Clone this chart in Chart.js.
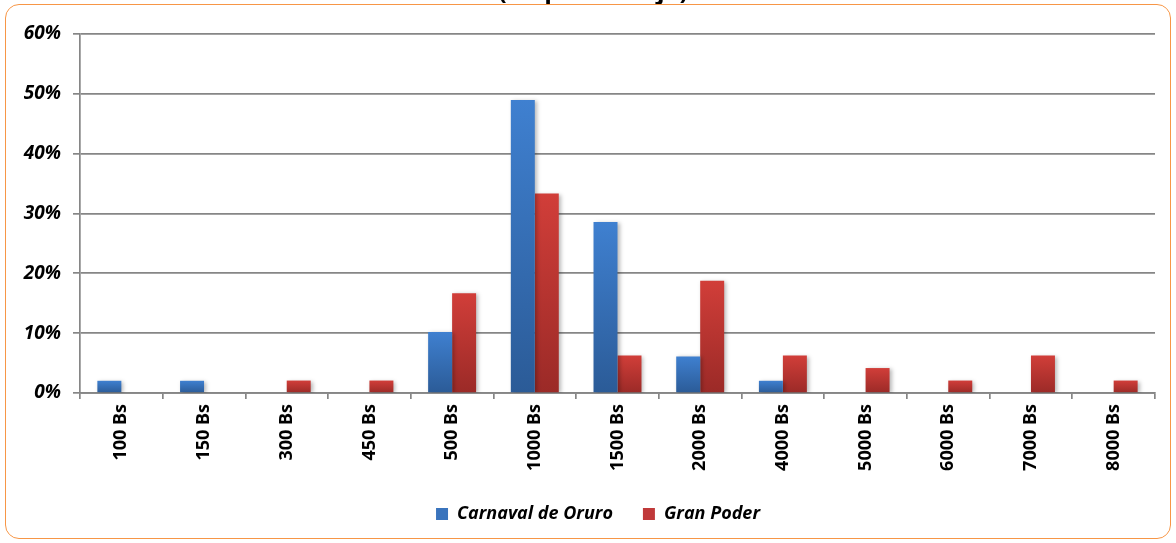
<!DOCTYPE html>
<html>
<head>
<meta charset="utf-8">
<script src="https://cdn.jsdelivr.net/npm/chart.js@4.4.0/dist/chart.umd.min.js"></script>
<style>
  html, body { margin: 0; padding: 0; background: #fff; }
  #wrap { position: relative; width: 1176px; height: 543px; overflow: hidden; }
  #marco {
    position: absolute; left: 5px; top: 4px; width: 1164px; height: 533px;
    border: 1.5px solid #f79646; border-radius: 14px; pointer-events: none;
  }
</style>
</head>
<body>
<div id="wrap">
  <canvas id="grafico" width="1176" height="543"></canvas>
  <div id="marco"></div>
</div>
<script>
// datos (porcentaje de encuestados por monto)
const montos = ['100 Bs', '150 Bs', '300 Bs', '450 Bs', '500 Bs', '1000 Bs', '1500 Bs',
  '2000 Bs', '4000 Bs', '5000 Bs', '6000 Bs', '7000 Bs', '8000 Bs'];
const carnavalOruro = [2.04, 2.04, 0, 0, 10.2, 48.98, 28.57, 6.12, 2.04, 0, 0, 0, 0];
const granPoder = [0, 0, 2.08, 2.08, 16.67, 33.33, 6.25, 18.75, 6.25, 4.17, 2.08, 6.25, 2.08];
const ticksY = [0, 10, 20, 30, 40, 50, 60];
const tituloVisible = '(en porcentaje)';

const fuente = '"Open Sans", Lato, sans-serif';

// degradado por barra, de arriba (claro) a abajo (oscuro)
function degradado(claro, oscuro) {
  return (ctx) => {
    const chart = ctx.chart;
    const y = chart.scales.y;
    if (!y || ctx.raw == null || !chart.chartArea) return oscuro;
    const top = y.getPixelForValue(ctx.raw);
    const base = y.getPixelForValue(0);
    if (!isFinite(top) || base - top < 1) return oscuro;
    const g = chart.ctx.createLinearGradient(0, top, 0, base);
    g.addColorStop(0, claro);
    g.addColorStop(1, oscuro);
    return g;
  };
}

const sombraBarras = {
  id: 'sombraBarras',
  beforeDatasetsDraw(chart) {
    const c = chart.ctx;
    c.save();
    c.shadowColor = 'rgba(0,0,0,0.28)';
    c.shadowBlur = 4;
    c.shadowOffsetX = 2;
    c.shadowOffsetY = 1;
  },
  afterDatasetsDraw(chart) {
    chart.ctx.restore();
  }
};

// la leyenda original esta un poco corrida a la derecha
const leyendaCorrida = {
  id: 'leyendaCorrida',
  afterLayout(chart) {
    if (chart.legend) chart.legend.left += 41;
  }
};

// titulo cortado arriba (solo se ven los trazos bajos)
const tituloCortado = {
  id: 'tituloCortado',
  afterDraw(chart) {
    const c = chart.ctx;
    c.save();
    c.font = 'bold 25px ' + fuente;
    c.fillStyle = '#000';
    c.textAlign = 'center';
    c.textBaseline = 'alphabetic';
    c.fillText(tituloVisible, 593, -1);
    c.restore();
  }
};

const grisEje = '#868686';

new Chart(document.getElementById('grafico'), {
  type: 'bar',
  data: {
    labels: montos,
    datasets: [
      {
        label: 'Carnaval de Oruro',
        data: carnavalOruro,
        backgroundColor: degradado('#3f80d0', '#2b5b97'),
        categoryPercentage: 0.58,
        barPercentage: 1
      },
      {
        label: 'Gran Poder',
        data: granPoder,
        backgroundColor: degradado('#d13e39', '#9b2a27'),
        categoryPercentage: 0.58,
        barPercentage: 1
      }
    ]
  },
  options: {
    responsive: false,
    animation: false,
    layout: { padding: { top: 34, right: 21, bottom: 10, left: 0 } },
    scales: {
      x: {
        grid: { offset: true, drawOnChartArea: false, color: grisEje, lineWidth: 1.7, tickLength: 6 },
        border: { color: grisEje, width: 1.7 },
        ticks: {
          minRotation: 90, maxRotation: 90, autoSkip: false, padding: 5,
          color: '#000', font: { family: fuente, size: 18, weight: 'bold' }
        },
        afterFit: (s) => { s.height = 82; }
      },
      y: {
        min: 0, max: 60,
        afterBuildTicks: (s) => { s.ticks = ticksY.map(v => ({ value: v })); },
        grid: { color: grisEje, lineWidth: 1.7, tickLength: 7 },
        border: { color: grisEje, width: 1.7 },
        ticks: {
          padding: 12, color: '#000',
          font: { family: fuente, size: 19, weight: 'bold', style: 'italic' },
          callback: (v) => v + '%'
        },
        afterFit: (s) => { s.width = 80; }
      }
    },
    plugins: {
      legend: {
        position: 'bottom',
        labels: {
          boxWidth: 12, boxHeight: 12, padding: 30, color: '#000',
          font: { family: fuente, size: 18, weight: 'bold', style: 'italic' },
          generateLabels: (chart) => chart.data.datasets.map((d, i) => ({
            text: d.label,
            fillStyle: i === 0 ? '#3a74bd' : '#c0393a',
            strokeStyle: 'transparent',
            lineWidth: 0,
            datasetIndex: i
          }))
        }
      },
      tooltip: { enabled: false }
    }
  },
  plugins: [sombraBarras, leyendaCorrida, tituloCortado]
});
</script>
</body>
</html>
